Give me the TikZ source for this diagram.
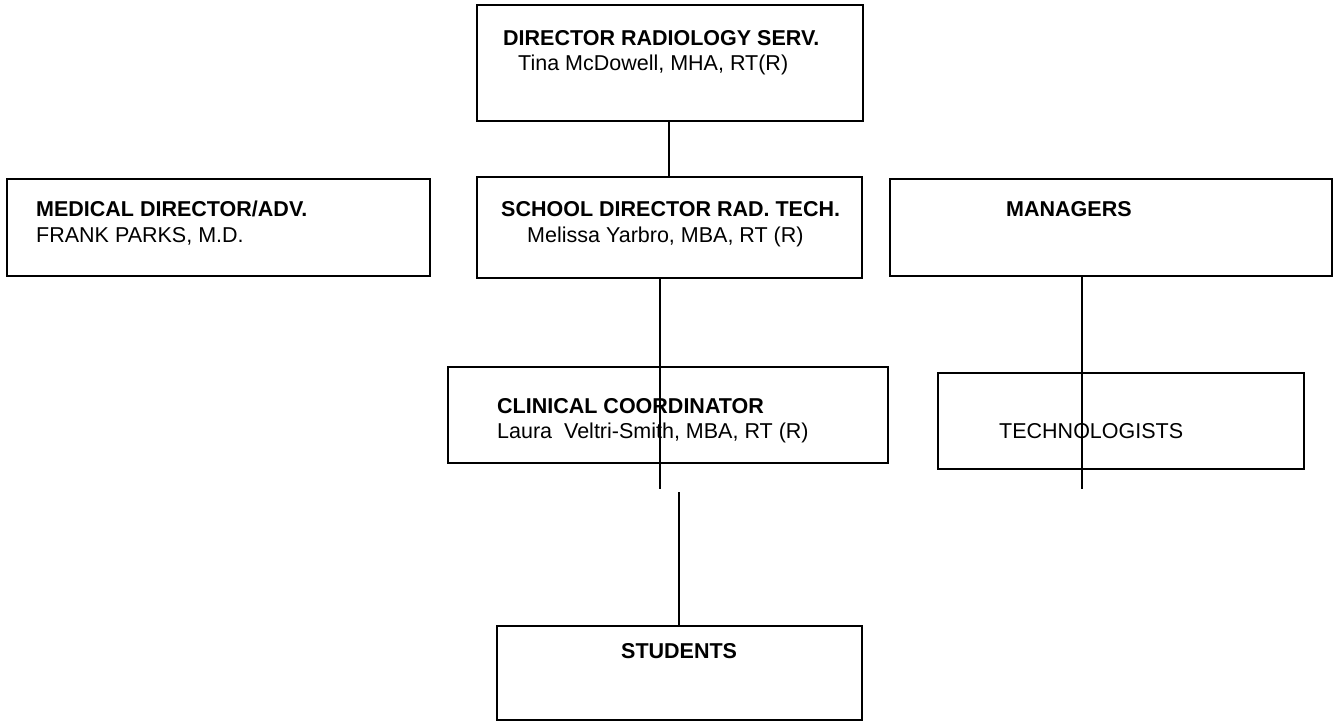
\documentclass[tikz,border=0pt]{standalone}
\usepackage{fontspec}
\setmainfont{Liberation Sans}
\begin{document}
\begin{tikzpicture}[x=1pt,y=-1pt,
  box/.style={draw,line width=2.4pt,inner sep=0pt},
  conn/.style={line width=2.4pt},
  lbl/.style={anchor=base west,inner sep=0pt,font=\fontsize{21.5}{24}\selectfont},
  blbl/.style={lbl,font=\fontsize{21.5}{24}\selectfont\bfseries}]
\useasboundingbox (0,0) rectangle (1338,722);
% boxes
\draw[box] (477,5) rectangle (863,121);
\coordinate (d1bot) at (669,121);
\draw[box] (477,177) rectangle (862,278);
\coordinate (d2top) at (669,177);
\coordinate (d2bot) at (660,278);
\draw[box] (7,179) rectangle (430,276);
\draw[box] (890,179) rectangle (1332,276);
\coordinate (mgbot) at (1082,276);
\draw[box] (448,367) rectangle (888,463);
\draw[box] (938,373) rectangle (1304,469);
\draw[box] (497,626) rectangle (862,720);
\coordinate (sttop) at (679,626);
% texts
\node[blbl] (t1a) at (503,46) {DIRECTOR RADIOLOGY SERV.};
\node[lbl] (t1b) at (518,71) {Tina McDowell, MHA, RT(R)};
\node[blbl] (t2a) at (501,217) {SCHOOL DIRECTOR RAD. TECH.};
\node[lbl] (t2b) at (527,242) {Melissa Yarbro, MBA, RT (R)};
\node[blbl] (t3a) at (36,217) {MEDICAL DIRECTOR/ADV.};
\node[lbl] (t3b) at (36,242) {FRANK PARKS, M.D.};
\node[blbl] (t4a) at (1006,217) {MANAGERS};
\node[blbl] (t5a) at (497,413) {CLINICAL COORDINATOR};
\node[lbl] (t5b) at (497,438) {Laura\ \ Veltri-Smith, MBA, RT (R)};
\node[lbl] (t6a) at (999,438) {TECHNOLOGISTS};
\node[blbl] (t7a) at (621,658) {STUDENTS};
% connectors
\coordinate (e1) at (660,489);
\coordinate (e2) at (679,492);
\coordinate (e3) at (1082,489);
\draw[conn] (d1bot) -- (d2top);
\draw[conn] (d2bot) -- (e1);
\draw[conn] (e2) -- (sttop);
\draw[conn] (mgbot) -- (e3);
\end{tikzpicture}
\end{document}
